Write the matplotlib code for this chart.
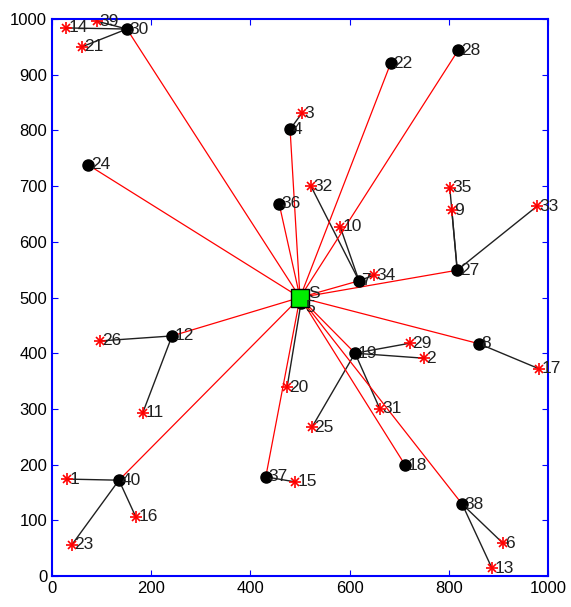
import matplotlib
matplotlib.use('Agg')
import matplotlib.pyplot as plt

plt.rcParams['font.family'] = ['Liberation Sans', 'DejaVu Sans']

# sink position
sinkX = 500
sinkY = 500

# cluster heads: id, x, y
chIds = [30, 24, 4, 22, 28, 36, 7, 27, 5, 12, 19, 8, 18, 38, 40, 37]
chX = [151, 73, 480, 683, 819, 458, 619, 817, 502, 242, 611, 861, 712, 827, 135, 431]
chY = [982, 738, 802, 921, 944, 668, 530, 549, 490, 431, 400, 417, 199, 129, 172, 178]

# member nodes: id, x, y, cluster head they join
memIds = [14, 39, 21, 3, 32, 10, 34, 35, 9, 33, 20, 26, 11, 29, 2, 25, 31, 17, 6, 13, 1, 16, 23, 15]
memX = [28, 91, 60, 504, 522, 581, 649, 802, 806, 978, 474, 97, 183, 722, 750, 524, 661, 982, 909, 887, 30, 169, 40, 490]
memY = [984, 996, 950, 831, 700, 627, 540, 697, 657, 664, 339, 422, 293, 418, 391, 267, 300, 372, 59, 14, 174, 106, 56, 169]
memCH = [30, 30, 30, 4, 7, 7, 7, 27, 27, 27, 5, 12, 12, 19, 19, 19, 19, 8, 38, 38, 40, 40, 40, 37]

fig = plt.figure(figsize=(5.71, 6.07), dpi=100)
ax = fig.add_axes([52/571, 31/607, 496/571, 557/607])

# member -> cluster head
for i in range(len(memIds)):
    k = chIds.index(memCH[i])
    ax.plot([memX[i], chX[k]], [memY[i], chY[k]], color='#202020', linewidth=1)

# cluster head -> sink
for k in range(len(chIds)):
    ax.plot([chX[k], sinkX], [chY[k], sinkY], color='red', linewidth=0.9)

# asterisk-like member markers
ax.plot(memX, memY, '+', color='red', markersize=9, markeredgewidth=1.2, linestyle='none')
ax.plot(memX, memY, 'x', color='red', markersize=6, markeredgewidth=1.2, linestyle='none')
ax.plot(chX, chY, 'o', color='black', markersize=8, linestyle='none')
ax.plot(sinkX, sinkY, 's', markerfacecolor='#00ee00', markeredgecolor='black', markersize=13)

for i in range(len(memIds)):
    ax.text(memX[i] + 5, memY[i], str(memIds[i]), fontsize=12.5, color='#202020', va='center')
for k in range(len(chIds)):
    if chIds[k] == 5:
        ax.text(chX[k] + 8, chY[k] - 8, str(chIds[k]), fontsize=12.5, color='#202020', va='center')
    else:
        ax.text(chX[k] + 5, chY[k], str(chIds[k]), fontsize=12.5, color='#202020', va='center')
ax.text(sinkX + 16, sinkY + 8, 'S', fontsize=12.5, color='#202020', va='center')

ax.set_xlim(0, 1000)
ax.set_ylim(0, 1000)
ax.set_xticks(range(0, 1001, 200))
ax.set_yticks(range(0, 1001, 100))
for s in ax.spines.values():
    s.set_color('blue')
    s.set_linewidth(1.5)
ax.tick_params(direction='in', top=True, right=True, color='blue', labelcolor='black', labelsize=12, length=4)

fig.savefig('out.png', dpi=100)
